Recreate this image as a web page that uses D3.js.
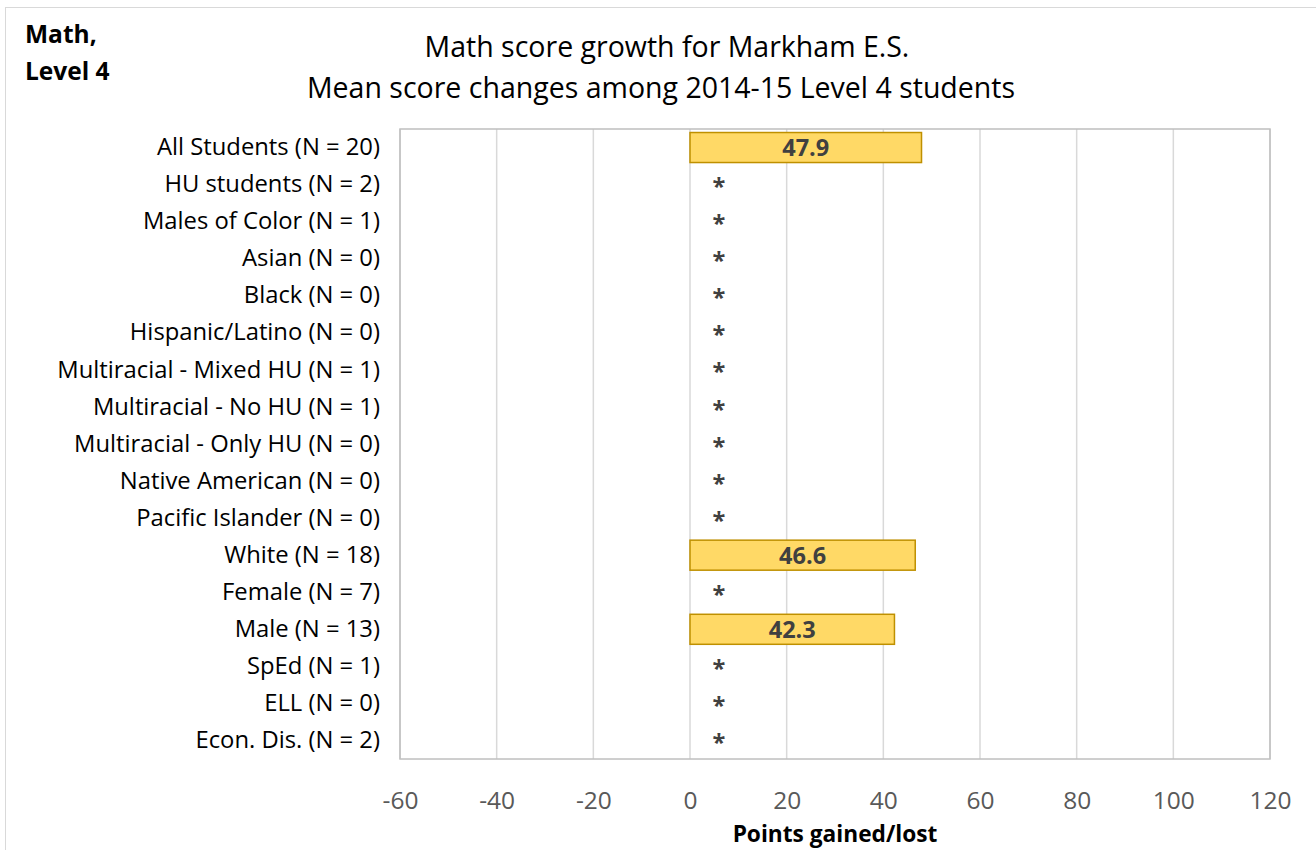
<!DOCTYPE html>
<html>
<head>
<meta charset="utf-8">
<script src="https://cdn.jsdelivr.net/npm/d3@7"></script>
<style>
  body { margin: 0; background: #fff; }
  text { font-family: "Open Sans", sans-serif; }
</style>
</head>
<body>
<div id="container"></div>
<script>
// Chart data
const groups = [
    "All Students (N = 20)", "HU students (N = 2)", "Males of Color (N = 1)",
    "Asian (N = 0)", "Black (N = 0)", "Hispanic/Latino (N = 0)",
    "Multiracial - Mixed HU (N = 1)", "Multiracial - No HU (N = 1)",
    "Multiracial - Only HU (N = 0)", "Native American (N = 0)",
    "Pacific Islander (N = 0)", "White (N = 18)", "Female (N = 7)",
    "Male (N = 13)", "SpEd (N = 1)", "ELL (N = 0)", "Econ. Dis. (N = 2)"
];
// null = suppressed (shown as *)
const growth = [47.9, null, null, null, null, null, null, null, null, null, null, 46.6, null, 42.3, null, null, null];
const xTicks = [-60, -40, -20, 0, 20, 40, 60, 80, 100, 120];
const titleLines = ["Math score growth for Markham E.S.", "Mean score changes among 2014-15 Level 4 students"];
const cornerLabel = ["Math,", "Level 4"];

const W = 1316, H = 850;
const plot = { left: 400, right: 1270, top: 129, bottom: 759 };
const FONT = '"Open Sans", sans-serif';

const svg = d3.select("#container")
    .append("svg")
    .attr("width", W)
    .attr("height", H);

// Outer chart border
svg.append("rect")
    .attr("x", 5.5).attr("y", 7.5)
    .attr("width", W - 5).attr("height", H)
    .attr("fill", "none")
    .attr("stroke", "#d9d9d9");

// Scales
const x = d3.scaleLinear().domain([-60, 120]).range([plot.left, plot.right]);
const y = d3.scaleBand().domain(groups).range([plot.top, plot.bottom]).paddingInner(0.19).paddingOuter(0.095);

// Gridlines
svg.append("g")
    .selectAll("line")
    .data(xTicks)
    .enter()
    .append("line")
    .attr("x1", d => x(d)).attr("x2", d => x(d))
    .attr("y1", plot.top).attr("y2", plot.bottom)
    .attr("stroke", "#d9d9d9")
    .attr("stroke-width", 1.5);

// Plot frame
svg.append("rect")
    .attr("x", plot.left).attr("y", plot.top)
    .attr("width", plot.right - plot.left).attr("height", plot.bottom - plot.top)
    .attr("fill", "none")
    .attr("stroke", "#bfbfbf")
    .attr("stroke-width", 1.5);

// X axis tick labels
const xAxis = svg.append("g")
    .attr("transform", `translate(0,${plot.bottom})`)
    .call(d3.axisBottom(x).tickValues(xTicks).tickSize(0).tickPadding(33).tickFormat(d => String(d)));
xAxis.select(".domain").remove();
xAxis.selectAll("text")
    .attr("font-family", FONT)
    .attr("font-size", 24.5)
    .attr("fill", "#595959");

// Y axis category labels
const yAxis = svg.append("g")
    .attr("transform", `translate(${plot.left},0)`)
    .call(d3.axisLeft(y).tickSize(0).tickPadding(20));
yAxis.select(".domain").remove();
yAxis.selectAll("text")
    .attr("font-family", FONT)
    .attr("font-size", 23.8)
    .attr("fill", "#000");

const rows = groups.map((g, i) => ({ group: g, value: growth[i] }));

// Bars
svg.append("g")
    .selectAll("rect")
    .data(rows.filter(d => d.value !== null))
    .enter()
    .append("rect")
    .attr("x", x(0))
    .attr("y", d => y(d.group))
    .attr("width", d => x(d.value) - x(0))
    .attr("height", y.bandwidth())
    .attr("fill", "#ffd966")
    .attr("stroke", "#bf9000")
    .attr("stroke-width", 1.5);

// Value labels / suppression markers
svg.append("g")
    .selectAll("text")
    .data(rows)
    .enter()
    .append("text")
    .attr("x", d => d.value !== null ? (x(0) + x(d.value)) / 2 : x(0) + 29)
    .attr("y", d => y(d.group) + y.bandwidth() / 2)
    .attr("dy", d => d.value !== null ? "0.36em" : "0.45em")
    .attr("text-anchor", "middle")
    .attr("font-size", 23.5)
    .attr("font-weight", "bold")
    .attr("fill", "#404040")
    .text(d => d.value !== null ? d3.format(".1f")(d.value) : "*");

// Titles
svg.append("g")
    .selectAll("text")
    .data(titleLines)
    .enter()
    .append("text")
    .attr("x", (d, i) => i === 0 ? 667 : 661)
    .attr("y", (d, i) => 57 + i * 41)
    .attr("text-anchor", "middle")
    .attr("font-size", 28.5)
    .attr("fill", "#000")
    .text(d => d);

svg.append("g")
    .selectAll("text")
    .data(cornerLabel)
    .enter()
    .append("text")
    .attr("x", 25)
    .attr("y", (d, i) => 43 + i * 37)
    .attr("font-size", 24.5)
    .attr("font-weight", "bold")
    .text(d => d);

// Axis title
svg.append("text")
    .attr("x", (plot.left + plot.right) / 2)
    .attr("y", 842)
    .attr("text-anchor", "middle")
    .attr("font-size", 22.7)
    .attr("font-weight", "bold")
    .text("Points gained/lost");
</script>
</body>
</html>
